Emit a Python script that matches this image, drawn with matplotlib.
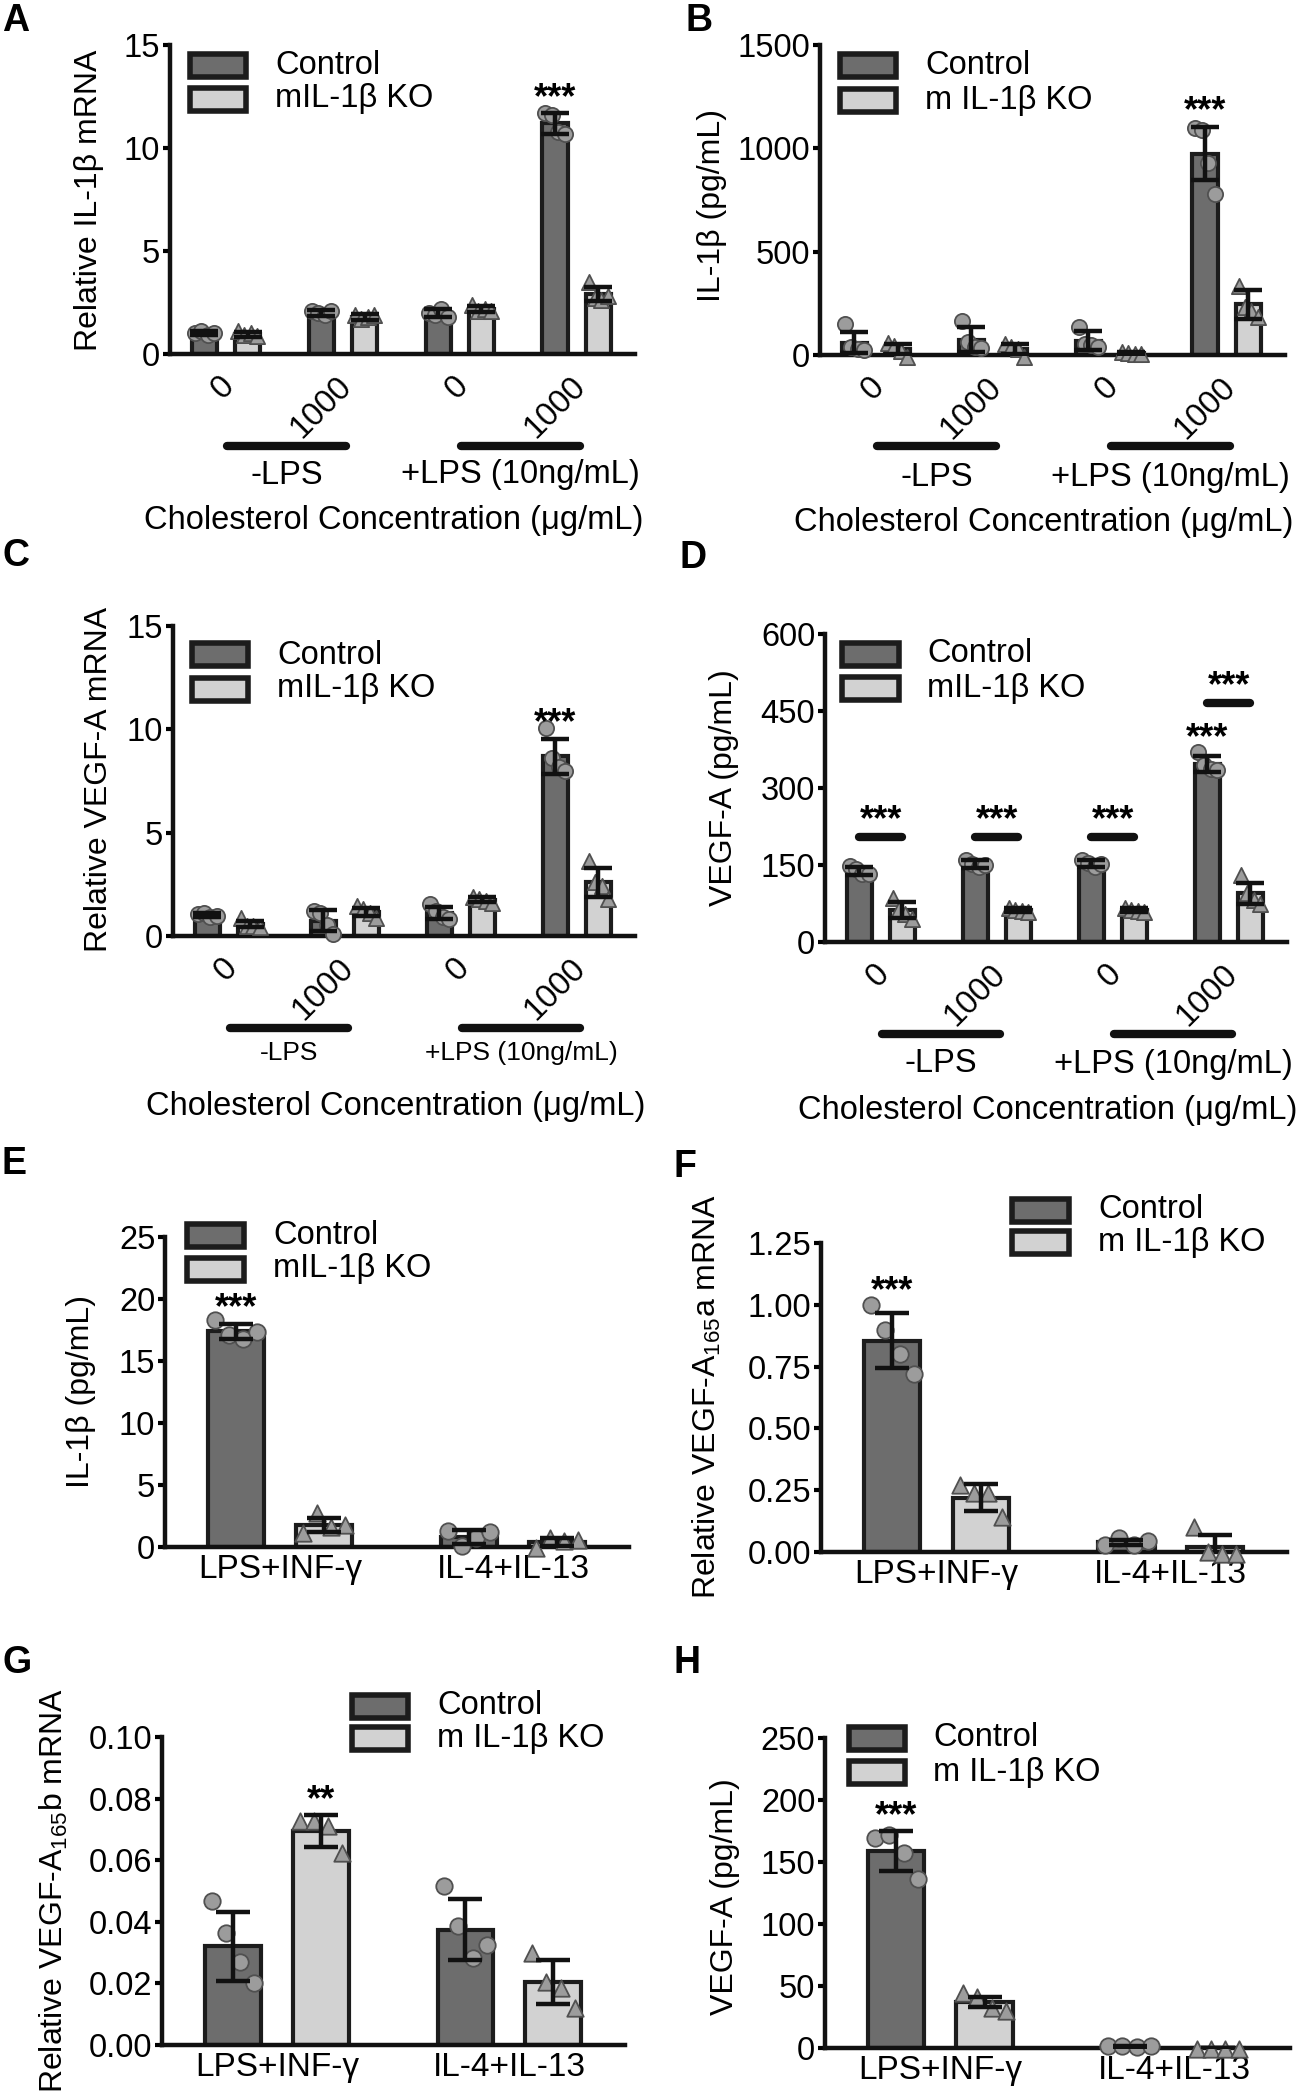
import numpy as np
import matplotlib
matplotlib.use('Agg')
import matplotlib.pyplot as plt
from matplotlib.patches import Rectangle
from matplotlib.transforms import ScaledTranslation

plt.rcParams['font.family'] = ['Liberation Sans', 'DejaVu Sans']
plt.rcParams['mathtext.default'] = 'regular'

# ---- data ----
conc_labels = ['0', '1000', '0', '1000']
stim_labels = ['LPS+INF-γ', 'IL-4+IL-13']

# A: relative IL-1b mRNA
A_ctrl_mean = [1.0, 2.0, 2.0, 11.2]
A_ctrl_sd = [0.1, 0.15, 0.2, 0.5]
A_ctrl_pts = [[1.0, 1.1, 0.9, 1.0], [2.1, 2.0, 1.9, 2.1], [2.0, 1.9, 2.2, 1.8], [11.7, 11.6, 10.8, 10.7]]
A_ko_mean = [0.95, 1.8, 2.2, 2.9]
A_ko_sd = [0.12, 0.15, 0.15, 0.35]
A_ko_pts = [[1.1, 0.9, 1.0, 0.85], [1.9, 1.7, 1.8, 1.9], [2.4, 2.1, 2.2, 2.1], [3.5, 2.7, 2.6, 2.8]]

# B: IL-1b protein (pg/mL)
B_ctrl_mean = [60, 75, 70, 975]
B_ctrl_sd = [52, 60, 45, 130]
B_ctrl_pts = [[150, 40, 30, 25], [165, 65, 40, 35], [135, 55, 50, 40], [1100, 1090, 930, 780]]
B_ko_mean = [30, 30, 8, 245]
B_ko_sd = [25, 25, 5, 70]
B_ko_pts = [[60, 45, 20, -10], [55, 40, 30, -10], [15, 10, 5, 3], [335, 230, 215, 185]]

# C: relative VEGF-A mRNA
C_ctrl_mean = [1.0, 0.75, 1.1, 8.7]
C_ctrl_sd = [0.1, 0.5, 0.3, 0.85]
C_ctrl_pts = [[1.05, 1.1, 0.9, 0.95], [1.2, 1.1, 0.55, 0.1], [1.55, 1.2, 0.9, 0.8], [10.05, 8.6, 8.2, 8.0]]
C_ko_mean = [0.57, 1.15, 1.75, 2.6]
C_ko_sd = [0.15, 0.2, 0.12, 0.7]
C_ko_pts = [[0.85, 0.5, 0.5, 0.45], [1.45, 1.3, 1.1, 0.85], [1.9, 1.8, 1.7, 1.6], [3.65, 2.6, 2.4, 1.8]]

# D: VEGF-A protein (pg/mL)
D_ctrl_mean = [139, 152, 153, 347]
D_ctrl_sd = [8, 8, 7, 15]
D_ctrl_pts = [[148, 143, 133, 132], [160, 152, 146, 150], [160, 153, 147, 152], [370, 345, 337, 336]]
D_ko_mean = [62, 62, 62, 95]
D_ko_sd = [15, 4, 4, 20]
D_ko_pts = [[85, 65, 55, 45], [67, 63, 60, 58], [67, 63, 60, 58], [130, 95, 82, 75]]
D_sig_y = [205, 205, 205, 466]

# E: IL-1b (pg/mL)
E_ctrl_mean = [17.4, 0.8]
E_ctrl_sd = [0.6, 0.55]
E_ctrl_pts = [[18.3, 17.1, 16.8, 17.3], [1.3, 0.1, 0.7, 1.2]]
E_ko_mean = [1.8, 0.4]
E_ko_sd = [0.55, 0.35]
E_ko_pts = [[1.1, 2.75, 1.6, 1.8], [-0.1, 0.7, 0.45, 0.55]]

# F: relative VEGF-A165a mRNA
F_ctrl_mean = [0.855, 0.04]
F_ctrl_sd = [0.11, 0.01]
F_ctrl_pts = [[1.0, 0.9, 0.8, 0.72], [0.03, 0.055, 0.027, 0.045]]
F_ko_mean = [0.22, 0.02]
F_ko_sd = [0.055, 0.05]
F_ko_pts = [[0.27, 0.24, 0.24, 0.14], [0.1, 0.0, -0.007, -0.007]]

# G: relative VEGF-A165b mRNA
G_ctrl_mean = [0.032, 0.0375]
G_ctrl_sd = [0.0113, 0.0099]
G_ctrl_pts = [[0.0466, 0.0363, 0.027, 0.020], [0.0515, 0.0385, 0.0282, 0.0325]]
G_ko_mean = [0.0695, 0.0205]
G_ko_sd = [0.0052, 0.0072]
G_ko_pts = [[0.0726, 0.0726, 0.071, 0.0623], [0.0298, 0.0206, 0.0184, 0.0119]]

# H: VEGF-A (pg/mL)
H_ctrl_mean = [159, 1.5]
H_ctrl_sd = [16, 0.5]
H_ctrl_pts = [[169, 172, 157, 136], [1.5, 2.0, 1.0, 1.5]]
H_ko_mean = [37, 0.0]
H_ko_sd = [4, 0.1]
H_ko_pts = [[44, 41.5, 32, 29.5], [-1, -1, -1, -1]]

# ---- drawing ----
W, H = 1299, 2100
fig = plt.figure(figsize=(W / 100, H / 100), dpi=100)

DARK = '#6d6d6d'
LIGHT = '#d2d2d2'
EDGE = '#1c1c1c'
PT = '#9c9c9c'
PTE = '#505050'
FS = 23.5
FS_Y = 23


def fx(x):
    return x / W


def fy(y):
    return 1 - y / H


def make_panel(box, ymax, yticks, ytl, xlim):
    x0, x1, ytop, ybot = box
    ax = fig.add_axes([fx(x0), fy(ybot), (x1 - x0) / W, (ybot - ytop) / H])
    ax.set_xlim(*xlim)
    ax.set_ylim(0, ymax)
    for s in ['top', 'right']:
        ax.spines[s].set_visible(False)
    for s in ['left', 'bottom']:
        ax.spines[s].set_linewidth(3.2)
        ax.spines[s].set_color('#111111')
    ax.set_yticks(yticks)
    ax.set_yticklabels(ytl, fontsize=FS)
    ax.tick_params(axis='y', length=5, width=3, pad=2)
    ax.tick_params(axis='x', length=0)
    ax.patch.set_alpha(0)
    return ax


def draw_bars(ax, xs, mean, sd, pts, color, marker, width, ms, cap):
    ax.bar(xs, mean, width, color=color, edgecolor=EDGE, linewidth=3, zorder=2)
    offs = np.array([-0.38, -0.13, 0.13, 0.38]) * width
    for x, p in zip(xs, pts):
        ax.scatter(x + offs[:len(p)], p, s=ms, marker=marker, facecolor=PT,
                   edgecolor=PTE, linewidths=1.3, zorder=3, clip_on=False)
    ax.errorbar(xs, mean, yerr=sd, fmt='none', ecolor='#111111', elinewidth=3.2,
                capsize=cap, capthick=3.2, zorder=4)


def stars(ax, x, y, txt='***'):
    ax.annotate(txt, xy=(x, y), xytext=(0, -2), textcoords='offset points',
                ha='center', va='bottom', fontsize=26, fontweight='bold', zorder=5)


def legend(x0, x1, yc1, yc2, tx, labels, h=23):
    for yc, c, lab in zip([yc1, yc2], [DARK, LIGHT], labels):
        fig.add_artist(Rectangle((fx(x0), fy(yc + h / 2)), (x1 - x0) / W, h / H,
                                 facecolor=c, edgecolor=EDGE, linewidth=4,
                                 transform=fig.transFigure))
        fig.text(fx(tx), fy(yc), lab, fontsize=FS, va='center', ha='left')


def letter(x, y, s):
    fig.text(fx(x), fy(y), s, fontsize=27, fontweight='bold', ha='left', va='center')


def ylab(x, y, s):
    fig.text(fx(x), fy(y), s, fontsize=FS_Y, rotation=90, ha='center', va='center')


g4 = np.arange(4)
off4, w4 = 0.185, 0.215
xlim4 = (-0.48, 3.50)
g2 = np.arange(2)
off2, w2 = 0.189, 0.24
xlim2 = (-0.494, 1.497)


def chol_panel(box, ymax, yticks, ytl, cm, cs, cp, km, ks, kp,
               br_y, lps_y, lps_fs, chol_x, chol_y):
    ax = make_panel(box, ymax, yticks, ytl, xlim4)
    draw_bars(ax, g4 - off4, cm, cs, cp, DARK, 'o', w4, 120, 10)
    draw_bars(ax, g4 + off4, km, ks, kp, LIGHT, '^', w4, 120, 10)
    ax.set_xticks(g4)
    ax.set_xticklabels(conc_labels, rotation=45, ha='right', va='top',
                       rotation_mode='anchor', fontsize=FS)
    ax.tick_params(axis='x', pad=12)
    shift = ScaledTranslation(-7 / 100, 0, fig.dpi_scale_trans)
    for lbl in ax.get_xticklabels():
        lbl.set_transform(lbl.get_transform() + shift)
    x0, x1, ytop, ybot = box
    tr = ax.get_xaxis_transform()
    yb = (ybot - br_y) / (ybot - ytop)
    yt = (ybot - lps_y) / (ybot - ytop)
    for a, lab in zip([0, 2], ['-LPS', '+LPS (10ng/mL)']):
        ax.plot([a + 0.01, a + 1.03], [yb, yb], transform=tr, color='#111111', lw=6,
                solid_capstyle='round', clip_on=False)
        ax.text(a + 0.52, yt, lab, transform=tr, ha='center', va='center', fontsize=lps_fs)
    fig.text(fx(chol_x), fy(chol_y), 'Cholesterol Concentration (μg/mL)',
             ha='center', va='center', fontsize=FS)
    return ax


def stim_panel(box, ymax, yticks, ytl, cm, cs, cp, km, ks, kp):
    ax = make_panel(box, ymax, yticks, ytl, xlim2)
    draw_bars(ax, g2 - off2, cm, cs, cp, DARK, 'o', w2, 140, 12)
    draw_bars(ax, g2 + off2, km, ks, kp, LIGHT, '^', w2, 140, 12)
    ax.set_xticks(g2)
    ax.set_xticklabels(stim_labels, fontsize=24)
    ax.tick_params(axis='x', pad=5)
    return ax


# A
axA = chol_panel((170, 635, 45, 354), 15, [0, 5, 10, 15], ['0', '5', '10', '15'],
                 A_ctrl_mean, A_ctrl_sd, A_ctrl_pts, A_ko_mean, A_ko_sd, A_ko_pts,
                 446, 475, FS, 394, 521)
stars(axA, 3 - off4, A_ctrl_mean[3] + A_ctrl_sd[3])
legend(190, 246, 65, 99, 275, ['Control', 'mIL-1β KO'])
ylab(89, 200, 'Relative IL-1β mRNA')
letter(2, 21, 'A')

# B
axB = chol_panel((820, 1285, 45, 355), 1500, [0, 500, 1000, 1500], ['0', '500', '1000', '1500'],
                 B_ctrl_mean, B_ctrl_sd, B_ctrl_pts, B_ko_mean, B_ko_sd, B_ko_pts,
                 446, 477, FS, 1044, 523)
stars(axB, 3 - off4, B_ctrl_mean[3] + B_ctrl_sd[3])
legend(840, 896, 65, 100, 925, ['Control', 'm IL-1β KO'])
ylab(712, 205, 'IL-1β (pg/mL)')
letter(685, 21, 'B')

# C
axC = chol_panel((173, 635, 626, 936), 15, [0, 5, 10, 15], ['0', '5', '10', '15'],
                 C_ctrl_mean, C_ctrl_sd, C_ctrl_pts, C_ko_mean, C_ko_sd, C_ko_pts,
                 1028, 1053, 19, 396, 1107)
stars(axC, 3 - off4, C_ctrl_mean[3] + C_ctrl_sd[3])
legend(192, 248, 655, 689, 277, ['Control', 'mIL-1β KO'])
ylab(99, 779, 'Relative VEGF-A mRNA')
letter(2, 556, 'C')

# D
axD = chol_panel((825, 1287, 634, 942), 600, [0, 150, 300, 450, 600],
                 ['0', '150', '300', '450', '600'],
                 D_ctrl_mean, D_ctrl_sd, D_ctrl_pts, D_ko_mean, D_ko_sd, D_ko_pts,
                 1034, 1064, FS, 1048, 1110)
for gi, ys in zip(g4, D_sig_y):
    axD.plot([gi - off4, gi + off4], [ys, ys], color='#111111', lw=6,
             solid_capstyle='round', clip_on=False)
    stars(axD, gi, ys + 3)
stars(axD, 3 - off4, D_ctrl_mean[3] + D_ctrl_sd[3] + 5)
legend(842, 899, 654, 688, 927, ['Control', 'mIL-1β KO'])
ylab(724, 788, 'VEGF-A (pg/mL)')
letter(680, 558, 'D')

# E
axE = stim_panel((165, 629, 1237, 1547), 25, [0, 5, 10, 15, 20, 25],
                 ['0', '5', '10', '15', '20', '25'],
                 E_ctrl_mean, E_ctrl_sd, E_ctrl_pts, E_ko_mean, E_ko_sd, E_ko_pts)
stars(axE, -off2, E_ctrl_mean[0] + E_ctrl_sd[0])
legend(187, 244, 1235, 1269, 273, ['Control', 'mIL-1β KO'])
ylab(81, 1392, 'IL-1β (pg/mL)')
letter(2, 1164, 'E')

# F
axF = stim_panel((821, 1287, 1243, 1552), 1.25, [0, 0.25, 0.5, 0.75, 1.0, 1.25],
                 ['0.00', '0.25', '0.50', '0.75', '1.00', '1.25'],
                 F_ctrl_mean, F_ctrl_sd, F_ctrl_pts, F_ko_mean, F_ko_sd, F_ko_pts)
stars(axF, -off2, F_ctrl_mean[0] + F_ctrl_sd[0] + 0.03)
legend(1012, 1069, 1210, 1242, 1098, ['Control', 'm IL-1β KO'])
ylab(707, 1397, r'Relative VEGF-A$_{165}$a mRNA')
letter(673, 1167, 'F')

# G
axG = stim_panel((162, 625, 1737, 2045), 0.10, [0, 0.02, 0.04, 0.06, 0.08, 0.10],
                 ['0.00', '0.02', '0.04', '0.06', '0.08', '0.10'],
                 G_ctrl_mean, G_ctrl_sd, G_ctrl_pts, G_ko_mean, G_ko_sd, G_ko_pts)
stars(axG, off2, G_ko_mean[0] + G_ko_sd[0], '**')
legend(352, 408, 1706, 1738, 437, ['Control', 'm IL-1β KO'])
ylab(54, 1891, r'Relative VEGF-A$_{165}$b mRNA')
letter(2, 1663, 'G')

# H
axH = stim_panel((825, 1290, 1738, 2048), 250, [0, 50, 100, 150, 200, 250],
                 ['0', '50', '100', '150', '200', '250'],
                 H_ctrl_mean, H_ctrl_sd, H_ctrl_pts, H_ko_mean, H_ko_sd, H_ko_pts)
stars(axH, -off2, H_ctrl_mean[0] + H_ctrl_sd[0])
legend(849, 905, 1738, 1772, 933, ['Control', 'm IL-1β KO'])
ylab(725, 1897, 'VEGF-A (pg/mL)')
letter(673, 1663, 'H')

fig.savefig('out.png', dpi=100)
